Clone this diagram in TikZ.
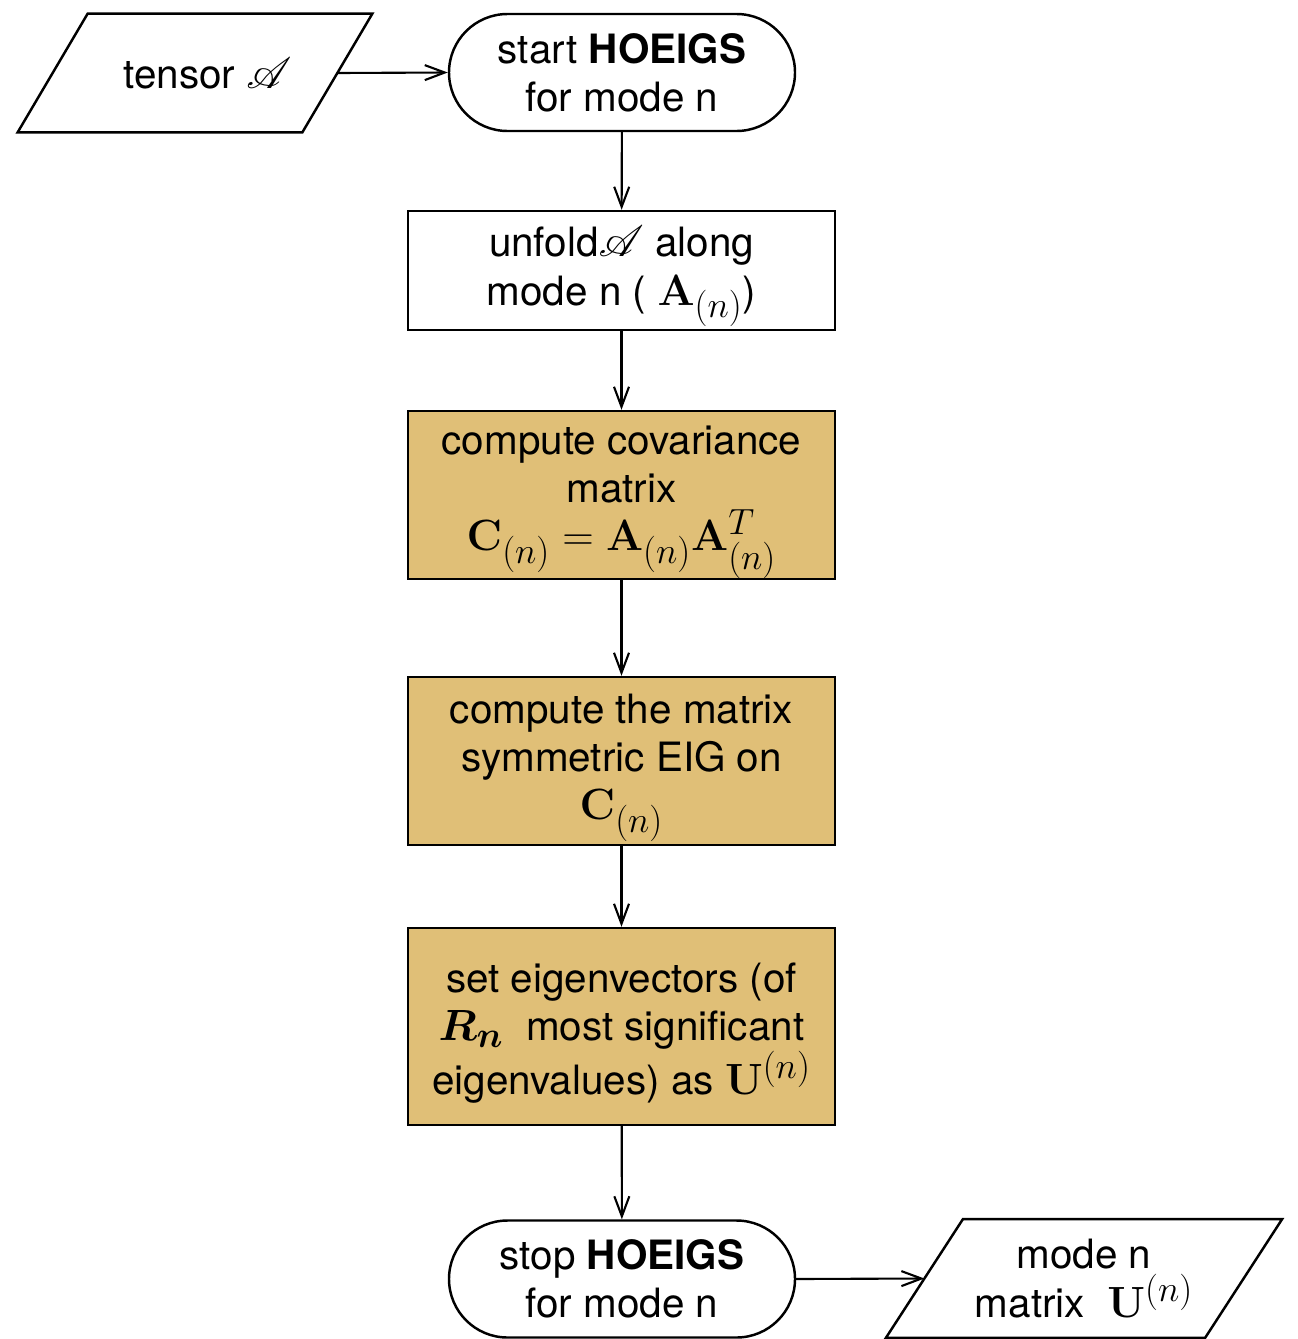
\documentclass[tikz,border=0pt]{standalone}
\usepackage{amsmath}
\usepackage{mathrsfs}
\usepackage[no-math]{fontspec}
\setmainfont{TeX Gyre Heros}
\usetikzlibrary{arrows.meta}
\DeclareMathSizes{23}{27}{21}{17}

\definecolor{stepfill}{RGB}{224,191,119}
\newcommand{\topgap}{\rule{0pt}{0.85cm}}

\begin{document}
\begin{tikzpicture}[
  font=\fontsize{23}{27.5}\selectfont,
  box/.style={draw, line width=1.4pt, align=center, minimum width=8.54cm, inner xsep=2pt, inner ysep=0pt},
  calc/.style={box, fill=stepfill},
  term/.style={draw, line width=1.4pt, rounded corners=1.17cm, align=center, minimum width=6.92cm, minimum height=2.34cm, inner sep=2pt},
  io/.style={align=center, minimum height=2.36cm, inner sep=1pt},
  ioline/.style={line width=1.4pt, line join=miter},
  arr/.style={-{Straight Barb[length=0.4cm, width=0.3cm]}, line width=1.2pt}]
\useasboundingbox (0,0) rectangle (25.96,-26.78);
\node[io, minimum width=5.68cm] (tensor) at (3.9,-1.46) {\hspace*{0.5cm}tensor $\mathscr{A}$};
\node[term] (start) at (12.44,-1.45) {start \textbf{HOEIGS}\\for mode n};
\node[box, minimum height=2.38cm] (unfold) at (12.43,-5.41) {\topgap unfold$\mathscr{A}$ along\\mode n ( $\mathbf{A}_{(n)}$)};
\node[calc, minimum height=3.36cm] (cov) at (12.43,-9.9) {\topgap compute covariance\\matrix\\$\mathbf{C}_{(n)}=\mathbf{A}_{(n)}\mathbf{A}_{(n)}^{T}$};
\node[calc, minimum height=3.36cm] (eig) at (12.43,-15.22) {\topgap compute the matrix\\symmetric EIG on\\$\mathbf{C}_{(n)}$};
\node[calc, minimum height=3.94cm] (vec) at (12.43,-20.53) {\topgap set eigenvectors (of\\$\boldsymbol{R_n}$\ \ most significant\\eigenvalues) as $\mathbf{U}^{(n)}$};
\node[term] (stop) at (12.44,-25.58) {stop \textbf{HOEIGS}\\for mode n};
\node[io, minimum width=6.37cm] (out) at (21.68,-25.57) {mode n\\matrix\ \ $\mathbf{U}^{(n)}$};
% parallelogram outlines
\draw[ioline] ([xshift=0.7cm]tensor.north west) -- ([xshift=0.7cm]tensor.north east)
  -- ([xshift=-0.7cm]tensor.south east) -- ([xshift=-0.7cm]tensor.south west) -- cycle;
\draw[ioline] ([xshift=0.77cm]out.north west) -- ([xshift=0.77cm]out.north east)
  -- ([xshift=-0.77cm]out.south east) -- ([xshift=-0.77cm]out.south west) -- cycle;
\draw[arr] (tensor.east) -- (start.west);
\draw[arr] (start) -- (unfold);
\draw[arr] (unfold) -- (cov);
\draw[arr] (cov) -- (eig);
\draw[arr] (eig) -- (vec);
\draw[arr] (vec) -- (stop);
\draw[arr] (stop.east) -- (out.west);
\end{tikzpicture}
\end{document}
